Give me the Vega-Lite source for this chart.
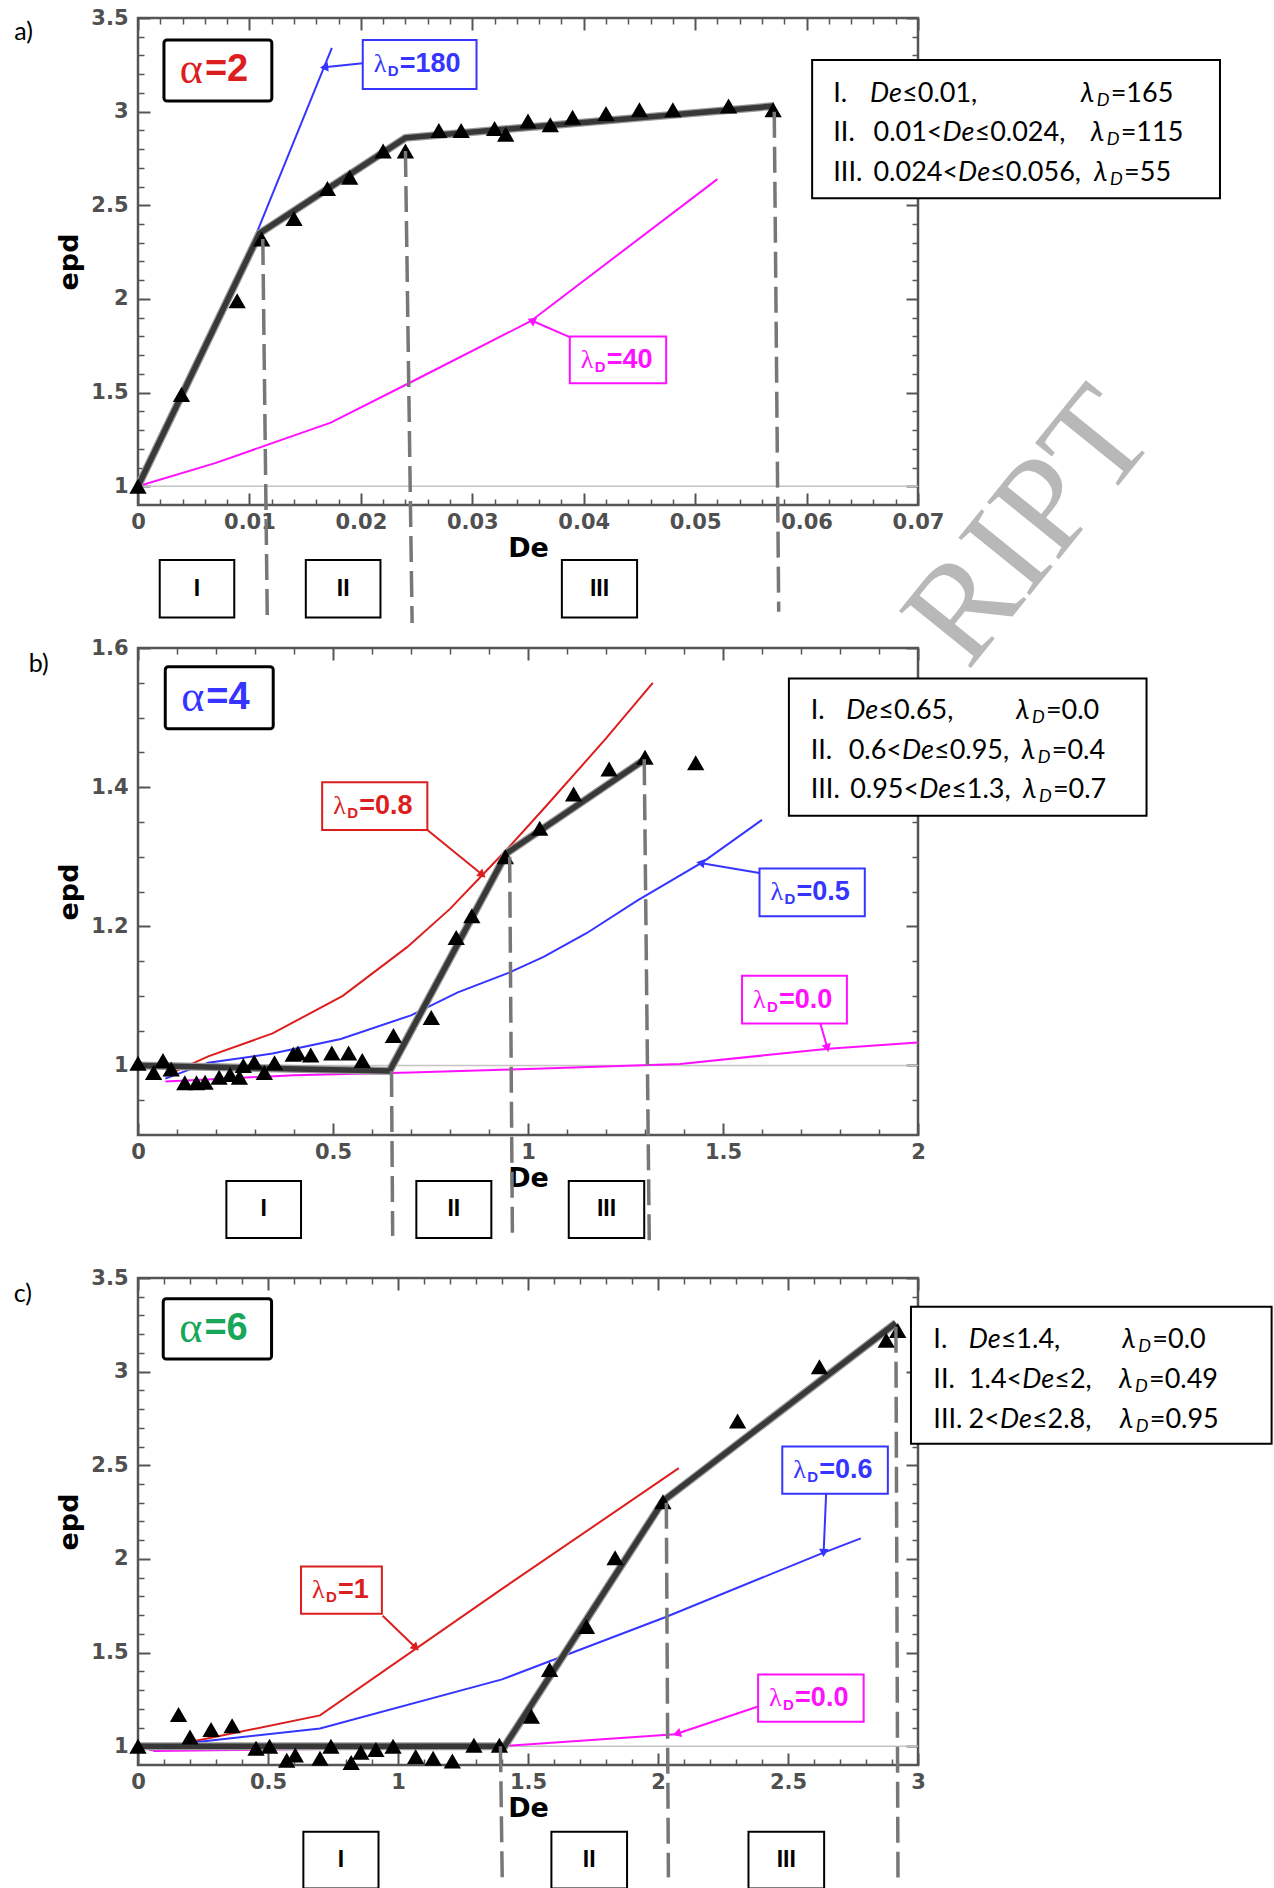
{
"$schema": "https://vega.github.io/schema/vega-lite/v6.json",
"background": "white",
"padding": {"left": 12, "top": 5, "right": 0, "bottom": 0},
"bounds": "flush",
"spacing": 143,
"config": {
  "view": {"stroke": "#555", "strokeWidth": 2.5},
  "axis": {"disable": true, "domain": false, "grid": false, "labelFont": "DejaVu Sans", "labelFontWeight": "bold", "labelFontSize": 21, "labelColor": "#505050", "labelFlush": false, "labelOverlap": false, "tickColor": "#555", "tickWidth": 2, "titleFont": "DejaVu Sans", "titleFontWeight": "bold", "titleFontSize": 27, "titleColor": "#000"},
  "legend": {"disable": true}
},
"datasets": {
  "one": [{"p":"a","x":0,"x2":0.07,"y":1},{"p":"b","x":0,"x2":2,"y":1},{"p":"c","x":0,"x2":3,"y":1}],
  "tri": [
    {"p":"a","x":0,"y":1.0},{"p":"a","x":0.0039,"y":1.49},{"p":"a","x":0.0089,"y":1.99},{"p":"a","x":0.0111,"y":2.32},{"p":"a","x":0.014,"y":2.43},{"p":"a","x":0.017,"y":2.59},{"p":"a","x":0.019,"y":2.65},{"p":"a","x":0.022,"y":2.79},{"p":"a","x":0.024,"y":2.79},{"p":"a","x":0.027,"y":2.9},{"p":"a","x":0.029,"y":2.9},{"p":"a","x":0.032,"y":2.91},{"p":"a","x":0.033,"y":2.88},{"p":"a","x":0.035,"y":2.95},{"p":"a","x":0.037,"y":2.93},{"p":"a","x":0.039,"y":2.97},{"p":"a","x":0.042,"y":2.99},{"p":"a","x":0.045,"y":3.01},{"p":"a","x":0.048,"y":3.01},{"p":"a","x":0.053,"y":3.03},{"p":"a","x":0.057,"y":3.01},
    {"p":"b","x":0,"y":1.003},{"p":"b","x":0.04,"y":0.99},{"p":"b","x":0.064,"y":1.007},{"p":"b","x":0.085,"y":0.995},{"p":"b","x":0.12,"y":0.975},{"p":"b","x":0.15,"y":0.975},{"p":"b","x":0.172,"y":0.976},{"p":"b","x":0.208,"y":0.983},{"p":"b","x":0.236,"y":0.987},{"p":"b","x":0.26,"y":0.983},{"p":"b","x":0.27,"y":1.0},{"p":"b","x":0.298,"y":1.005},{"p":"b","x":0.324,"y":0.99},{"p":"b","x":0.35,"y":1.004},{"p":"b","x":0.398,"y":1.016},{"p":"b","x":0.41,"y":1.018},{"p":"b","x":0.443,"y":1.015},{"p":"b","x":0.497,"y":1.018},{"p":"b","x":0.54,"y":1.018},{"p":"b","x":0.575,"y":1.007},{"p":"b","x":0.655,"y":1.043},{"p":"b","x":0.752,"y":1.069},{"p":"b","x":0.816,"y":1.184},{"p":"b","x":0.856,"y":1.215},{"p":"b","x":0.942,"y":1.3},{"p":"b","x":1.03,"y":1.341},{"p":"b","x":1.117,"y":1.39},{"p":"b","x":1.208,"y":1.426},{"p":"b","x":1.3,"y":1.443},{"p":"b","x":1.43,"y":1.435},
    {"p":"c","x":0,"y":1.0},{"p":"c","x":0.156,"y":1.17},{"p":"c","x":0.2,"y":1.05},{"p":"c","x":0.281,"y":1.09},{"p":"c","x":0.362,"y":1.11},{"p":"c","x":0.454,"y":0.99},{"p":"c","x":0.506,"y":1.0},{"p":"c","x":0.572,"y":0.925},{"p":"c","x":0.605,"y":0.953},{"p":"c","x":0.7,"y":0.936},{"p":"c","x":0.742,"y":1.0},{"p":"c","x":0.82,"y":0.914},{"p":"c","x":0.857,"y":0.968},{"p":"c","x":0.915,"y":0.983},{"p":"c","x":0.981,"y":1.0},{"p":"c","x":1.068,"y":0.946},{"p":"c","x":1.135,"y":0.936},{"p":"c","x":1.209,"y":0.921},{"p":"c","x":1.292,"y":1.006},{"p":"c","x":1.39,"y":1.006},{"p":"c","x":1.513,"y":1.16},{"p":"c","x":1.583,"y":1.41},{"p":"c","x":1.725,"y":1.64},{"p":"c","x":1.835,"y":2.006},{"p":"c","x":2.019,"y":2.305},{"p":"c","x":2.306,"y":2.736},{"p":"c","x":2.621,"y":3.026},{"p":"c","x":2.878,"y":3.168},{"p":"c","x":2.922,"y":3.22}
  ],
  "fit": [
    {"p":"a","x":0,"y":1.0},{"p":"a","x":0.0109,"y":2.35},{"p":"a","x":0.024,"y":2.86},{"p":"a","x":0.0571,"y":3.03},
    {"p":"b","x":0,"y":1.0},{"p":"b","x":0.645,"y":0.992},{"p":"b","x":0.945,"y":1.305},{"p":"b","x":1.3,"y":1.44},
    {"p":"c","x":0,"y":1.0},{"p":"c","x":1.41,"y":1.0},{"p":"c","x":2.02,"y":2.31},{"p":"c","x":2.915,"y":3.26}
  ],
  "curves": [
    {"p":"a","c":"b","x":0,"y":1},{"p":"a","c":"b","x":0.0105,"y":2.33},{"p":"a","c":"b","x":0.0174,"y":3.34},
    {"p":"a","c":"m","x":0,"y":1},{"p":"a","c":"m","x":0.007,"y":1.125},{"p":"a","c":"m","x":0.0173,"y":1.34},{"p":"a","c":"m","x":0.0243,"y":1.55},{"p":"a","c":"m","x":0.0352,"y":1.88},{"p":"a","c":"m","x":0.052,"y":2.64},
    {"p":"b","c":"r","x":0.07,"y":0.985},{"p":"b","c":"r","x":0.18,"y":1.013},{"p":"b","c":"r","x":0.345,"y":1.046},{"p":"b","c":"r","x":0.525,"y":1.1},{"p":"b","c":"r","x":0.69,"y":1.17},{"p":"b","c":"r","x":0.8,"y":1.225},{"p":"b","c":"r","x":0.88,"y":1.272},{"p":"b","c":"r","x":0.945,"y":1.31},{"p":"b","c":"r","x":1.05,"y":1.375},{"p":"b","c":"r","x":1.2,"y":1.47},{"p":"b","c":"r","x":1.32,"y":1.55},
    {"p":"b","c":"b","x":0.07,"y":0.981},{"p":"b","c":"b","x":0.18,"y":1.004},{"p":"b","c":"b","x":0.345,"y":1.017},{"p":"b","c":"b","x":0.52,"y":1.038},{"p":"b","c":"b","x":0.7,"y":1.072},{"p":"b","c":"b","x":0.82,"y":1.105},{"p":"b","c":"b","x":0.95,"y":1.133},{"p":"b","c":"b","x":1.04,"y":1.156},{"p":"b","c":"b","x":1.15,"y":1.19},{"p":"b","c":"b","x":1.28,"y":1.237},{"p":"b","c":"b","x":1.45,"y":1.293},{"p":"b","c":"b","x":1.6,"y":1.353},
    {"p":"b","c":"m","x":0.07,"y":0.977},{"p":"b","c":"m","x":0.15,"y":0.979},{"p":"b","c":"m","x":0.4,"y":0.986},{"p":"b","c":"m","x":0.7,"y":0.99},{"p":"b","c":"m","x":1.0,"y":0.995},{"p":"b","c":"m","x":1.39,"y":1.002},{"p":"b","c":"m","x":1.77,"y":1.024},{"p":"b","c":"m","x":2.0,"y":1.033},
    {"p":"c","c":"r","x":0,"y":1},{"p":"c","c":"r","x":0.07,"y":0.975},{"p":"c","c":"r","x":0.21,"y":1.025},{"p":"c","c":"r","x":0.7,"y":1.165},{"p":"c","c":"r","x":1.4,"y":1.84},{"p":"c","c":"r","x":2.08,"y":2.485},
    {"p":"c","c":"b","x":0,"y":1},{"p":"c","c":"b","x":0.07,"y":0.975},{"p":"c","c":"b","x":0.21,"y":1.02},{"p":"c","c":"b","x":0.7,"y":1.095},{"p":"c","c":"b","x":1.4,"y":1.357},{"p":"c","c":"b","x":2.03,"y":1.69},{"p":"c","c":"b","x":2.63,"y":2.03},{"p":"c","c":"b","x":2.78,"y":2.11},
    {"p":"c","c":"m","x":0,"y":1},{"p":"c","c":"m","x":0.07,"y":0.975},{"p":"c","c":"m","x":0.7,"y":0.985},{"p":"c","c":"m","x":1.4,"y":1.0},{"p":"c","c":"m","x":2.08,"y":1.065}
  ],
  "dash": [
    {"p":"a","x":0.0112,"y":2.32,"x2":0.0116,"y2":0.31},{"p":"a","x":0.024,"y":2.79,"x2":0.0246,"y2":0.27},{"p":"a","x":0.0571,"y":3.0,"x2":0.0575,"y2":0.33},
    {"p":"b","x":0.65,"y":0.992,"x2":0.653,"y2":0.755},{"p":"b","x":0.953,"y":1.3,"x2":0.96,"y2":0.755},{"p":"b","x":1.298,"y":1.44,"x2":1.311,"y2":0.745},
    {"p":"c","x":1.394,"y":1.0,"x2":1.401,"y2":0.28},{"p":"c","x":2.032,"y":2.3,"x2":2.04,"y2":0.3},{"p":"c","x":2.915,"y":3.24,"x2":2.923,"y2":0.3}
  ],
  "regions": [
    {"p":"a","t":"I","x":0.00195,"x2":0.00864,"y":0.607,"y2":0.299,"xc":0.0053,"yc":0.453},
    {"p":"a","t":"II","x":0.01506,"x2":0.02176,"y":0.607,"y2":0.299,"xc":0.01841,"yc":0.453},
    {"p":"a","t":"III","x":0.03804,"x2":0.04479,"y":0.607,"y2":0.299,"xc":0.04142,"yc":0.453},
    {"p":"b","t":"I","x":0.2266,"x2":0.418,"y":0.834,"y2":0.752,"xc":0.3223,"yc":0.793},
    {"p":"b","t":"II","x":0.7137,"x2":0.906,"y":0.834,"y2":0.752,"xc":0.8099,"yc":0.793},
    {"p":"b","t":"III","x":1.1045,"x2":1.298,"y":0.834,"y2":0.752,"xc":1.2013,"yc":0.793},
    {"p":"c","t":"I","x":0.636,"x2":0.925,"y":0.544,"y2":0.24,"xc":0.7805,"yc":0.392},
    {"p":"c","t":"II","x":1.59,"x2":1.881,"y":0.544,"y2":0.24,"xc":1.7355,"yc":0.392},
    {"p":"c","t":"III","x":2.348,"x2":2.639,"y":0.544,"y2":0.24,"xc":2.4935,"yc":0.392}
  ],
  "tags": [
    {"p":"a","c":"b","x":0.02017,"x2":0.03038,"y":3.383,"y2":3.121,"yc":3.252,"v":"=180"},
    {"p":"a","c":"m","x":0.03875,"x2":0.0474,"y":1.8,"y2":1.55,"yc":1.675,"v":"=40"},
    {"p":"b","c":"r","x":0.4722,"x2":0.7419,"y":1.4072,"y2":1.3385,"yc":1.373,"v":"=0.8"},
    {"p":"b","c":"b","x":1.5936,"x2":1.8636,"y":1.283,"y2":1.2145,"yc":1.249,"v":"=0.5"},
    {"p":"b","c":"m","x":1.5488,"x2":1.8177,"y":1.129,"y2":1.0603,"yc":1.0947,"v":"=0.0"},
    {"p":"c","c":"r","x":0.627,"x2":0.938,"y":1.9594,"y2":1.7076,"yc":1.8335,"v":"=1"},
    {"p":"c","c":"b","x":2.478,"x2":2.884,"y":2.6,"y2":2.348,"yc":2.474,"v":"=0.6"},
    {"p":"c","c":"m","x":2.385,"x2":2.791,"y":1.383,"y2":1.131,"yc":1.257,"v":"=0.0"}
  ],
  "arrows": [
    {"p":"a","id":"a180","c":"b","x":0.02017,"y":3.258,"x2":0.0167,"y2":3.237},
    {"p":"a","id":"a40","c":"m","x":0.03875,"y":1.796,"x2":0.03531,"y2":1.885},
    {"p":"b","id":"b08","c":"r","x":0.742,"y":1.3385,"x2":0.883,"y2":1.274},
    {"p":"b","id":"b05","c":"b","x":1.5936,"y":1.2767,"x2":1.442,"y2":1.291},
    {"p":"b","id":"b00","c":"m","x":1.7495,"y":1.0603,"x2":1.7677,"y2":1.025},
    {"p":"c","id":"c1","c":"r","x":0.941,"y":1.697,"x2":1.0685,"y2":1.526},
    {"p":"c","id":"c06","c":"b","x":2.6466,"y":2.348,"x2":2.637,"y2":2.032},
    {"p":"c","id":"c00","c":"m","x":2.385,"y":1.212,"x2":2.0724,"y2":1.067}
  ],
  "alpha": [
    {"p":"a","c":"r","x":0.00233,"x2":0.01201,"y":3.383,"y2":3.057,"xc":0.00717,"yc":3.22,"v":"=2"},
    {"p":"b","c":"b","x":0.0699,"x2":0.3467,"y":1.573,"y2":1.4838,"xc":0.2083,"yc":1.528,"v":"=4"},
    {"p":"c","c":"g","x":0.097,"x2":0.5137,"y":3.3896,"y2":3.067,"xc":0.3054,"yc":3.228,"v":"=6"}
  ],
  "legbox": [
    {"p":"a","x":0.0605,"x2":0.0971,"y":3.276,"y2":2.538},
    {"p":"b","x":1.669,"x2":2.586,"y":1.556,"y2":1.359},
    {"p":"c","x":2.973,"x2":4.36,"y":3.346,"y2":2.615}
  ],
  "leg": [
    {"p":"a","y":3.094,"n":"I.","xn":0.0624,"xd":0.0657,"pre":"","post":"≤0.01,","xl":0.0846,"v":"=165"},
    {"p":"a","y":2.888,"n":"II.","xn":0.0624,"xd":0.0722,"pre":"0.01<","post":"≤0.024,","xl":0.0855,"v":"=115"},
    {"p":"a","y":2.675,"n":"III.","xn":0.0624,"xd":0.0736,"pre":"0.024<","post":"≤0.056,","xl":0.0858,"v":"=55"},
    {"p":"b","y":1.51,"n":"I.","xn":1.725,"xd":1.816,"pre":"","post":"≤0.65,","xl":2.251,"v":"=0.0"},
    {"p":"b","y":1.452,"n":"II.","xn":1.725,"xd":1.959,"pre":"0.6<","post":"≤0.95,","xl":2.266,"v":"=0.4"},
    {"p":"b","y":1.396,"n":"III.","xn":1.725,"xd":2.003,"pre":"0.95<","post":"≤1.3,","xl":2.269,"v":"=0.7"},
    {"p":"c","y":3.17,"n":"I.","xn":3.059,"xd":3.195,"pre":"","post":"≤1.4,","xl":3.786,"v":"=0.0"},
    {"p":"c","y":2.956,"n":"II.","xn":3.059,"xd":3.401,"pre":"1.4<","post":"≤2,","xl":3.773,"v":"=0.49"},
    {"p":"c","y":2.743,"n":"III.","xn":3.059,"xd":3.315,"pre":"2<","post":"≤2.8,","xl":3.776,"v":"=0.95"}
  ],
  "plabel": [
    {"p":"a","x":-0.0111,"y":3.425,"t":"a)"},
    {"p":"b","x":-0.2804,"y":1.577,"t":"b)"},
    {"p":"c","x":-0.4775,"y":3.415,"t":"c)"}
  ],
  "wm": [{"p":"a","x":0.0801,"y":0.78,"t":"RIPT"}]
},
"vconcat": [
{
"width": 780, "height": 487,
"resolve": {"axis": {"x": "independent", "y": "independent"}},
"layer": [
  {"data": {"values": [{"x": 0, "y": 1}]}, "mark": {"type": "point", "opacity": 0},
   "encoding": {
    "x": {"field": "x", "type": "quantitative", "scale": {"domain": [0, 0.07], "nice": false, "zero": false},
          "axis": {"orient": "bottom", "values": [0,0.01,0.02,0.03,0.04,0.05,0.06,0.07], "format": "~g", "tickSize": -12, "labelPadding": 18, "title": "De", "titlePadding": 3}},
    "y": {"field": "y", "type": "quantitative", "scale": {"domain": [0.9, 3.5], "nice": false, "zero": false},
          "axis": {"orient": "left", "values": [1,1.5,2,2.5,3,3.5], "format": "~g", "tickSize": -12, "labelPadding": 22, "title": "epd", "titlePadding": 7}}}},
  {"data": {"values": [{"x": 0, "y": 1}]}, "mark": {"type": "point", "opacity": 0},
   "encoding": {
    "x": {"field": "x", "type": "quantitative", "axis": {"orient": "bottom", "values": [0.002,0.004,0.006,0.008,0.012,0.014,0.016,0.018,0.022,0.024,0.026,0.028,0.032,0.034,0.036,0.038,0.042,0.044,0.046,0.048,0.052,0.054,0.056,0.058,0.062,0.064,0.066,0.068], "labels": false, "tickSize": -6, "tickWidth": 1.5, "title": null}},
    "y": {"field": "y", "type": "quantitative", "axis": {"orient": "left", "values": [1.1,1.2,1.3,1.4,1.6,1.7,1.8,1.9,2.1,2.2,2.3,2.4,2.6,2.7,2.8,2.9,3.1,3.2,3.3,3.4], "labels": false, "tickSize": -6, "tickWidth": 1.5, "title": null}}}},
  {"data": {"values": [{"x": 0, "y": 1}]}, "mark": {"type": "point", "opacity": 0},
   "encoding": {
    "x": {"field": "x", "type": "quantitative", "axis": {"orient": "top", "values": [0,0.01,0.02,0.03,0.04,0.05,0.06,0.07], "labels": false, "tickSize": -12, "title": null}},
    "y": {"field": "y", "type": "quantitative", "axis": {"orient": "right", "values": [1,1.5,2,2.5,3,3.5], "labels": false, "tickSize": -12, "title": null}}}},
  {"data": {"values": [{"x": 0, "y": 1}]}, "mark": {"type": "point", "opacity": 0},
   "encoding": {
    "x": {"field": "x", "type": "quantitative", "axis": {"orient": "top", "values": [0.002,0.004,0.006,0.008,0.012,0.014,0.016,0.018,0.022,0.024,0.026,0.028,0.032,0.034,0.036,0.038,0.042,0.044,0.046,0.048,0.052,0.054,0.056,0.058,0.062,0.064,0.066,0.068], "labels": false, "tickSize": -6, "tickWidth": 1.5, "title": null}},
    "y": {"field": "y", "type": "quantitative", "axis": {"orient": "right", "values": [1.1,1.2,1.3,1.4,1.6,1.7,1.8,1.9,2.1,2.2,2.3,2.4,2.6,2.7,2.8,2.9,3.1,3.2,3.3,3.4], "labels": false, "tickSize": -6, "tickWidth": 1.5, "title": null}}}},
  {"data": {"name": "wm"}, "mark": {"type": "text", "font": "Liberation Serif", "fontSize": 140, "color": "#b8b8b8", "angle": 309, "align": "center", "baseline": "middle"}, "encoding": {"x": {"field": "x", "type": "quantitative"}, "y": {"field": "y", "type": "quantitative"}, "text": {"field": "t"}}},
  {"data": {"name": "one"}, "transform": [{"filter": "datum.p==='a'"}], "mark": {"type": "rule", "color": "#c4c4c4", "strokeWidth": 1.5}, "encoding": {"x": {"field": "x", "type": "quantitative"}, "x2": {"field": "x2"}, "y": {"field": "y", "type": "quantitative"}}},
  {"data": {"name": "curves"}, "transform": [{"filter": "datum.p==='a'"}], "mark": {"type": "line", "strokeWidth": 2}, "encoding": {"x": {"field": "x", "type": "quantitative"}, "y": {"field": "y", "type": "quantitative"}, "color": {"field": "c", "type": "nominal", "scale": {"domain": ["r","b","m","g"], "range": ["#dc1e1e","#3535ff","#ff10ff","#17a65a"]}}}},
  {"data": {"name": "fit"}, "transform": [{"filter": "datum.p==='a'"}], "mark": {"type": "line", "color": "#9a9a9a", "strokeWidth": 8}, "encoding": {"x": {"field": "x", "type": "quantitative"}, "y": {"field": "y", "type": "quantitative"}}},
  {"data": {"name": "fit"}, "transform": [{"filter": "datum.p==='a'"}], "mark": {"type": "line", "color": "#383838", "strokeWidth": 5.5}, "encoding": {"x": {"field": "x", "type": "quantitative"}, "y": {"field": "y", "type": "quantitative"}}},
  {"data": {"name": "tri"}, "transform": [{"filter": "datum.p==='a'"}], "mark": {"type": "point", "shape": "triangle-up", "filled": true, "color": "#000", "opacity": 1, "size": 300}, "encoding": {"x": {"field": "x", "type": "quantitative"}, "y": {"field": "y", "type": "quantitative"}}},
  {"data": {"name": "dash"}, "transform": [{"filter": "datum.p==='a'"}], "mark": {"type": "rule", "color": "#777", "strokeWidth": 3.5, "strokeDash": [26, 9]}, "encoding": {"x": {"field": "x", "type": "quantitative"}, "y": {"field": "y", "type": "quantitative"}, "x2": {"field": "x2"}, "y2": {"field": "y2"}}},
  {"data": {"name": "regions"}, "transform": [{"filter": "datum.p==='a'"}], "mark": {"type": "rect", "fill": "white", "stroke": "#000", "strokeWidth": 2}, "encoding": {"x": {"field": "x", "type": "quantitative"}, "x2": {"field": "x2"}, "y": {"field": "y", "type": "quantitative"}, "y2": {"field": "y2"}}},
  {"data": {"name": "regions"}, "transform": [{"filter": "datum.p==='a'"}], "mark": {"type": "text", "font": "Liberation Sans", "fontWeight": "bold", "fontSize": 23, "color": "#000", "align": "center", "baseline": "middle"}, "encoding": {"x": {"field": "xc", "type": "quantitative"}, "y": {"field": "yc", "type": "quantitative"}, "text": {"field": "t"}}},
  {"data": {"name": "arrows"}, "transform": [{"filter": "datum.p==='a'"}], "mark": {"type": "rule", "strokeWidth": 2}, "encoding": {"x": {"field": "x", "type": "quantitative"}, "y": {"field": "y", "type": "quantitative"}, "x2": {"field": "x2"}, "y2": {"field": "y2"}, "color": {"field": "c", "type": "nominal", "scale": {"domain": ["r","b","m","g"], "range": ["#dc1e1e","#3535ff","#ff10ff","#17a65a"]}}}},
  {"data": {"name": "arrows"}, "transform": [{"filter": "datum.id==='a180'"}], "mark": {"type": "point", "shape": "triangle-up", "filled": true, "opacity": 1, "size": 90, "angle": 264}, "encoding": {"x": {"field": "x2", "type": "quantitative"}, "y": {"field": "y2", "type": "quantitative"}, "color": {"field": "c", "type": "nominal", "scale": {"domain": ["r","b","m","g"], "range": ["#dc1e1e","#3535ff","#ff10ff","#17a65a"]}}}},
  {"data": {"name": "arrows"}, "transform": [{"filter": "datum.id==='a40'"}], "mark": {"type": "point", "shape": "triangle-up", "filled": true, "opacity": 1, "size": 90, "angle": 294}, "encoding": {"x": {"field": "x2", "type": "quantitative"}, "y": {"field": "y2", "type": "quantitative"}, "color": {"field": "c", "type": "nominal", "scale": {"domain": ["r","b","m","g"], "range": ["#dc1e1e","#3535ff","#ff10ff","#17a65a"]}}}},
  {"data": {"name": "tags"}, "transform": [{"filter": "datum.p==='a'"}], "mark": {"type": "rect", "fill": "white", "strokeWidth": 2}, "encoding": {"x": {"field": "x", "type": "quantitative"}, "x2": {"field": "x2"}, "y": {"field": "y", "type": "quantitative"}, "y2": {"field": "y2"}, "stroke": {"field": "c", "type": "nominal", "scale": {"domain": ["r","b","m","g"], "range": ["#dc1e1e","#3535ff","#ff10ff","#17a65a"]}}}},
  {"data": {"name": "tags"}, "transform": [{"filter": "datum.p==='a'"}], "mark": {"type": "text", "text": "λ", "font": "Liberation Serif", "fontSize": 26, "align": "left", "baseline": "middle", "dx": 11}, "encoding": {"x": {"field": "x", "type": "quantitative"}, "y": {"field": "yc", "type": "quantitative"}, "color": {"field": "c", "type": "nominal", "scale": {"domain": ["r","b","m","g"], "range": ["#dc1e1e","#3535ff","#ff10ff","#17a65a"]}}}},
  {"data": {"name": "tags"}, "transform": [{"filter": "datum.p==='a'"}], "mark": {"type": "text", "text": "D", "font": "Liberation Sans", "fontWeight": "bold", "fontSize": 15, "align": "left", "baseline": "middle", "dx": 25, "dy": 7}, "encoding": {"x": {"field": "x", "type": "quantitative"}, "y": {"field": "yc", "type": "quantitative"}, "color": {"field": "c", "type": "nominal", "scale": {"domain": ["r","b","m","g"], "range": ["#dc1e1e","#3535ff","#ff10ff","#17a65a"]}}}},
  {"data": {"name": "tags"}, "transform": [{"filter": "datum.p==='a'"}], "mark": {"type": "text", "font": "Liberation Sans", "fontWeight": "bold", "fontSize": 27, "align": "left", "baseline": "middle", "dx": 37}, "encoding": {"x": {"field": "x", "type": "quantitative"}, "y": {"field": "yc", "type": "quantitative"}, "text": {"field": "v"}, "color": {"field": "c", "type": "nominal", "scale": {"domain": ["r","b","m","g"], "range": ["#dc1e1e","#3535ff","#ff10ff","#17a65a"]}}}},
  {"data": {"name": "alpha"}, "transform": [{"filter": "datum.p==='a'"}], "mark": {"type": "rect", "fill": "white", "stroke": "#000", "strokeWidth": 3, "cornerRadius": 3}, "encoding": {"x": {"field": "x", "type": "quantitative"}, "x2": {"field": "x2"}, "y": {"field": "y", "type": "quantitative"}, "y2": {"field": "y2"}}},
  {"data": {"name": "alpha"}, "transform": [{"filter": "datum.p==='a'"}], "mark": {"type": "text", "text": "α", "font": "Liberation Serif", "fontSize": 44, "align": "right", "baseline": "middle", "dx": -15}, "encoding": {"x": {"field": "xc", "type": "quantitative"}, "y": {"field": "yc", "type": "quantitative"}, "color": {"field": "c", "type": "nominal", "scale": {"domain": ["r","b","m","g"], "range": ["#dc1e1e","#3535ff","#ff10ff","#17a65a"]}}}},
  {"data": {"name": "alpha"}, "transform": [{"filter": "datum.p==='a'"}], "mark": {"type": "text", "font": "Liberation Sans", "fontWeight": "bold", "fontSize": 38, "align": "left", "baseline": "middle", "dx": -13}, "encoding": {"x": {"field": "xc", "type": "quantitative"}, "y": {"field": "yc", "type": "quantitative"}, "text": {"field": "v"}, "color": {"field": "c", "type": "nominal", "scale": {"domain": ["r","b","m","g"], "range": ["#dc1e1e","#3535ff","#ff10ff","#17a65a"]}}}},
  {"data": {"name": "legbox"}, "transform": [{"filter": "datum.p==='a'"}], "mark": {"type": "rect", "fill": "white", "stroke": "#000", "strokeWidth": 2}, "encoding": {"x": {"field": "x", "type": "quantitative"}, "x2": {"field": "x2"}, "y": {"field": "y", "type": "quantitative"}, "y2": {"field": "y2"}}},
  {"data": {"name": "leg"}, "transform": [{"filter": "datum.p==='a'"}], "mark": {"type": "text", "font": "Lato", "fontSize": 27, "align": "left", "baseline": "middle", "color": "#000"}, "encoding": {"x": {"field": "xn", "type": "quantitative"}, "y": {"field": "y", "type": "quantitative"}, "text": {"field": "n"}}},
  {"data": {"name": "leg"}, "transform": [{"filter": "datum.p==='a'"}], "mark": {"type": "text", "font": "Lato", "fontSize": 27, "align": "right", "baseline": "middle", "color": "#000"}, "encoding": {"x": {"field": "xd", "type": "quantitative"}, "y": {"field": "y", "type": "quantitative"}, "text": {"field": "pre"}}},
  {"data": {"name": "leg"}, "transform": [{"filter": "datum.p==='a'"}], "mark": {"type": "text", "text": "De", "font": "Lato", "fontStyle": "italic", "fontSize": 27, "align": "left", "baseline": "middle", "color": "#000"}, "encoding": {"x": {"field": "xd", "type": "quantitative"}, "y": {"field": "y", "type": "quantitative"}}},
  {"data": {"name": "leg"}, "transform": [{"filter": "datum.p==='a'"}], "mark": {"type": "text", "font": "Lato", "fontSize": 27, "align": "left", "baseline": "middle", "color": "#000", "dx": 32}, "encoding": {"x": {"field": "xd", "type": "quantitative"}, "y": {"field": "y", "type": "quantitative"}, "text": {"field": "post"}}},
  {"data": {"name": "leg"}, "transform": [{"filter": "datum.p==='a'"}], "mark": {"type": "text", "text": "λ", "font": "Lato", "fontStyle": "italic", "fontSize": 27, "align": "left", "baseline": "middle", "color": "#000"}, "encoding": {"x": {"field": "xl", "type": "quantitative"}, "y": {"field": "y", "type": "quantitative"}}},
  {"data": {"name": "leg"}, "transform": [{"filter": "datum.p==='a'"}], "mark": {"type": "text", "text": "D", "font": "Lato", "fontStyle": "italic", "fontSize": 18, "align": "left", "baseline": "middle", "color": "#000", "dx": 16, "dy": 7}, "encoding": {"x": {"field": "xl", "type": "quantitative"}, "y": {"field": "y", "type": "quantitative"}}},
  {"data": {"name": "leg"}, "transform": [{"filter": "datum.p==='a'"}], "mark": {"type": "text", "font": "Lato", "fontSize": 27, "align": "left", "baseline": "middle", "color": "#000", "dx": 30}, "encoding": {"x": {"field": "xl", "type": "quantitative"}, "y": {"field": "y", "type": "quantitative"}, "text": {"field": "v"}}},
  {"data": {"name": "plabel"}, "transform": [{"filter": "datum.p==='a'"}], "mark": {"type": "text", "font": "Lato", "fontSize": 25, "align": "left", "baseline": "middle", "color": "#000"}, "encoding": {"x": {"field": "x", "type": "quantitative"}, "y": {"field": "y", "type": "quantitative"}, "text": {"field": "t"}}}
]
},
{
"width": 780, "height": 487,
"resolve": {"axis": {"x": "independent", "y": "independent"}},
"layer": [
  {"data": {"values": [{"x": 0, "y": 1}]}, "mark": {"type": "point", "opacity": 0},
   "encoding": {
    "x": {"field": "x", "type": "quantitative", "scale": {"domain": [0, 2], "nice": false, "zero": false},
          "axis": {"orient": "bottom", "values": [0,0.5,1,1.5,2], "format": "~g", "tickSize": -12, "labelPadding": 18, "title": "De", "titlePadding": 3}},
    "y": {"field": "y", "type": "quantitative", "scale": {"domain": [0.9, 1.6], "nice": false, "zero": false},
          "axis": {"orient": "left", "values": [1,1.2,1.4,1.6], "format": "~g", "tickSize": -12, "labelPadding": 22, "title": "epd", "titlePadding": 7}}}},
  {"data": {"values": [{"x": 0, "y": 1}]}, "mark": {"type": "point", "opacity": 0},
   "encoding": {
    "x": {"field": "x", "type": "quantitative", "axis": {"orient": "bottom", "values": [0.1,0.2,0.3,0.4,0.6,0.7,0.8,0.9,1.1,1.2,1.3,1.4,1.6,1.7,1.8,1.9], "labels": false, "tickSize": -6, "tickWidth": 1.5, "title": null}},
    "y": {"field": "y", "type": "quantitative", "axis": {"orient": "left", "values": [0.95,1.05,1.1,1.15,1.25,1.3,1.35,1.45,1.5,1.55], "labels": false, "tickSize": -6, "tickWidth": 1.5, "title": null}}}},
  {"data": {"values": [{"x": 0, "y": 1}]}, "mark": {"type": "point", "opacity": 0},
   "encoding": {
    "x": {"field": "x", "type": "quantitative", "axis": {"orient": "top", "values": [0,0.5,1,1.5,2], "labels": false, "tickSize": -12, "title": null}},
    "y": {"field": "y", "type": "quantitative", "axis": {"orient": "right", "values": [1,1.2,1.4,1.6], "labels": false, "tickSize": -12, "title": null}}}},
  {"data": {"values": [{"x": 0, "y": 1}]}, "mark": {"type": "point", "opacity": 0},
   "encoding": {
    "x": {"field": "x", "type": "quantitative", "axis": {"orient": "top", "values": [0.1,0.2,0.3,0.4,0.6,0.7,0.8,0.9,1.1,1.2,1.3,1.4,1.6,1.7,1.8,1.9], "labels": false, "tickSize": -6, "tickWidth": 1.5, "title": null}},
    "y": {"field": "y", "type": "quantitative", "axis": {"orient": "right", "values": [0.95,1.05,1.1,1.15,1.25,1.3,1.35,1.45,1.5,1.55], "labels": false, "tickSize": -6, "tickWidth": 1.5, "title": null}}}},
  {"data": {"name": "one"}, "transform": [{"filter": "datum.p==='b'"}], "mark": {"type": "rule", "color": "#c4c4c4", "strokeWidth": 1.5}, "encoding": {"x": {"field": "x", "type": "quantitative"}, "x2": {"field": "x2"}, "y": {"field": "y", "type": "quantitative"}}},
  {"data": {"name": "curves"}, "transform": [{"filter": "datum.p==='b'"}], "mark": {"type": "line", "strokeWidth": 2}, "encoding": {"x": {"field": "x", "type": "quantitative"}, "y": {"field": "y", "type": "quantitative"}, "color": {"field": "c", "type": "nominal", "scale": {"domain": ["r","b","m","g"], "range": ["#dc1e1e","#3535ff","#ff10ff","#17a65a"]}}}},
  {"data": {"name": "fit"}, "transform": [{"filter": "datum.p==='b'"}], "mark": {"type": "line", "color": "#9a9a9a", "strokeWidth": 8}, "encoding": {"x": {"field": "x", "type": "quantitative"}, "y": {"field": "y", "type": "quantitative"}}},
  {"data": {"name": "fit"}, "transform": [{"filter": "datum.p==='b'"}], "mark": {"type": "line", "color": "#383838", "strokeWidth": 5.5}, "encoding": {"x": {"field": "x", "type": "quantitative"}, "y": {"field": "y", "type": "quantitative"}}},
  {"data": {"name": "tri"}, "transform": [{"filter": "datum.p==='b'"}], "mark": {"type": "point", "shape": "triangle-up", "filled": true, "color": "#000", "opacity": 1, "size": 300}, "encoding": {"x": {"field": "x", "type": "quantitative"}, "y": {"field": "y", "type": "quantitative"}}},
  {"data": {"name": "dash"}, "transform": [{"filter": "datum.p==='b'"}], "mark": {"type": "rule", "color": "#777", "strokeWidth": 3.5, "strokeDash": [26, 9]}, "encoding": {"x": {"field": "x", "type": "quantitative"}, "y": {"field": "y", "type": "quantitative"}, "x2": {"field": "x2"}, "y2": {"field": "y2"}}},
  {"data": {"name": "regions"}, "transform": [{"filter": "datum.p==='b'"}], "mark": {"type": "rect", "fill": "white", "stroke": "#000", "strokeWidth": 2}, "encoding": {"x": {"field": "x", "type": "quantitative"}, "x2": {"field": "x2"}, "y": {"field": "y", "type": "quantitative"}, "y2": {"field": "y2"}}},
  {"data": {"name": "regions"}, "transform": [{"filter": "datum.p==='b'"}], "mark": {"type": "text", "font": "Liberation Sans", "fontWeight": "bold", "fontSize": 23, "color": "#000", "align": "center", "baseline": "middle"}, "encoding": {"x": {"field": "xc", "type": "quantitative"}, "y": {"field": "yc", "type": "quantitative"}, "text": {"field": "t"}}},
  {"data": {"name": "arrows"}, "transform": [{"filter": "datum.p==='b'"}], "mark": {"type": "rule", "strokeWidth": 2}, "encoding": {"x": {"field": "x", "type": "quantitative"}, "y": {"field": "y", "type": "quantitative"}, "x2": {"field": "x2"}, "y2": {"field": "y2"}, "color": {"field": "c", "type": "nominal", "scale": {"domain": ["r","b","m","g"], "range": ["#dc1e1e","#3535ff","#ff10ff","#17a65a"]}}}},
  {"data": {"name": "arrows"}, "transform": [{"filter": "datum.id==='b08'"}], "mark": {"type": "point", "shape": "triangle-up", "filled": true, "opacity": 1, "size": 90, "angle": 129}, "encoding": {"x": {"field": "x2", "type": "quantitative"}, "y": {"field": "y2", "type": "quantitative"}, "color": {"field": "c", "type": "nominal", "scale": {"domain": ["r","b","m","g"], "range": ["#dc1e1e","#3535ff","#ff10ff","#17a65a"]}}}},
  {"data": {"name": "arrows"}, "transform": [{"filter": "datum.id==='b05'"}], "mark": {"type": "point", "shape": "triangle-up", "filled": true, "opacity": 1, "size": 90, "angle": 279}, "encoding": {"x": {"field": "x2", "type": "quantitative"}, "y": {"field": "y2", "type": "quantitative"}, "color": {"field": "c", "type": "nominal", "scale": {"domain": ["r","b","m","g"], "range": ["#dc1e1e","#3535ff","#ff10ff","#17a65a"]}}}},
  {"data": {"name": "arrows"}, "transform": [{"filter": "datum.id==='b00'"}], "mark": {"type": "point", "shape": "triangle-up", "filled": true, "opacity": 1, "size": 90, "angle": 164}, "encoding": {"x": {"field": "x2", "type": "quantitative"}, "y": {"field": "y2", "type": "quantitative"}, "color": {"field": "c", "type": "nominal", "scale": {"domain": ["r","b","m","g"], "range": ["#dc1e1e","#3535ff","#ff10ff","#17a65a"]}}}},
  {"data": {"name": "tags"}, "transform": [{"filter": "datum.p==='b'"}], "mark": {"type": "rect", "fill": "white", "strokeWidth": 2}, "encoding": {"x": {"field": "x", "type": "quantitative"}, "x2": {"field": "x2"}, "y": {"field": "y", "type": "quantitative"}, "y2": {"field": "y2"}, "stroke": {"field": "c", "type": "nominal", "scale": {"domain": ["r","b","m","g"], "range": ["#dc1e1e","#3535ff","#ff10ff","#17a65a"]}}}},
  {"data": {"name": "tags"}, "transform": [{"filter": "datum.p==='b'"}], "mark": {"type": "text", "text": "λ", "font": "Liberation Serif", "fontSize": 26, "align": "left", "baseline": "middle", "dx": 11}, "encoding": {"x": {"field": "x", "type": "quantitative"}, "y": {"field": "yc", "type": "quantitative"}, "color": {"field": "c", "type": "nominal", "scale": {"domain": ["r","b","m","g"], "range": ["#dc1e1e","#3535ff","#ff10ff","#17a65a"]}}}},
  {"data": {"name": "tags"}, "transform": [{"filter": "datum.p==='b'"}], "mark": {"type": "text", "text": "D", "font": "Liberation Sans", "fontWeight": "bold", "fontSize": 15, "align": "left", "baseline": "middle", "dx": 25, "dy": 7}, "encoding": {"x": {"field": "x", "type": "quantitative"}, "y": {"field": "yc", "type": "quantitative"}, "color": {"field": "c", "type": "nominal", "scale": {"domain": ["r","b","m","g"], "range": ["#dc1e1e","#3535ff","#ff10ff","#17a65a"]}}}},
  {"data": {"name": "tags"}, "transform": [{"filter": "datum.p==='b'"}], "mark": {"type": "text", "font": "Liberation Sans", "fontWeight": "bold", "fontSize": 27, "align": "left", "baseline": "middle", "dx": 37}, "encoding": {"x": {"field": "x", "type": "quantitative"}, "y": {"field": "yc", "type": "quantitative"}, "text": {"field": "v"}, "color": {"field": "c", "type": "nominal", "scale": {"domain": ["r","b","m","g"], "range": ["#dc1e1e","#3535ff","#ff10ff","#17a65a"]}}}},
  {"data": {"name": "alpha"}, "transform": [{"filter": "datum.p==='b'"}], "mark": {"type": "rect", "fill": "white", "stroke": "#000", "strokeWidth": 3, "cornerRadius": 3}, "encoding": {"x": {"field": "x", "type": "quantitative"}, "x2": {"field": "x2"}, "y": {"field": "y", "type": "quantitative"}, "y2": {"field": "y2"}}},
  {"data": {"name": "alpha"}, "transform": [{"filter": "datum.p==='b'"}], "mark": {"type": "text", "text": "α", "font": "Liberation Serif", "fontSize": 44, "align": "right", "baseline": "middle", "dx": -15}, "encoding": {"x": {"field": "xc", "type": "quantitative"}, "y": {"field": "yc", "type": "quantitative"}, "color": {"field": "c", "type": "nominal", "scale": {"domain": ["r","b","m","g"], "range": ["#dc1e1e","#3535ff","#ff10ff","#17a65a"]}}}},
  {"data": {"name": "alpha"}, "transform": [{"filter": "datum.p==='b'"}], "mark": {"type": "text", "font": "Liberation Sans", "fontWeight": "bold", "fontSize": 38, "align": "left", "baseline": "middle", "dx": -13}, "encoding": {"x": {"field": "xc", "type": "quantitative"}, "y": {"field": "yc", "type": "quantitative"}, "text": {"field": "v"}, "color": {"field": "c", "type": "nominal", "scale": {"domain": ["r","b","m","g"], "range": ["#dc1e1e","#3535ff","#ff10ff","#17a65a"]}}}},
  {"data": {"name": "legbox"}, "transform": [{"filter": "datum.p==='b'"}], "mark": {"type": "rect", "fill": "white", "stroke": "#000", "strokeWidth": 2}, "encoding": {"x": {"field": "x", "type": "quantitative"}, "x2": {"field": "x2"}, "y": {"field": "y", "type": "quantitative"}, "y2": {"field": "y2"}}},
  {"data": {"name": "leg"}, "transform": [{"filter": "datum.p==='b'"}], "mark": {"type": "text", "font": "Lato", "fontSize": 27, "align": "left", "baseline": "middle", "color": "#000"}, "encoding": {"x": {"field": "xn", "type": "quantitative"}, "y": {"field": "y", "type": "quantitative"}, "text": {"field": "n"}}},
  {"data": {"name": "leg"}, "transform": [{"filter": "datum.p==='b'"}], "mark": {"type": "text", "font": "Lato", "fontSize": 27, "align": "right", "baseline": "middle", "color": "#000"}, "encoding": {"x": {"field": "xd", "type": "quantitative"}, "y": {"field": "y", "type": "quantitative"}, "text": {"field": "pre"}}},
  {"data": {"name": "leg"}, "transform": [{"filter": "datum.p==='b'"}], "mark": {"type": "text", "text": "De", "font": "Lato", "fontStyle": "italic", "fontSize": 27, "align": "left", "baseline": "middle", "color": "#000"}, "encoding": {"x": {"field": "xd", "type": "quantitative"}, "y": {"field": "y", "type": "quantitative"}}},
  {"data": {"name": "leg"}, "transform": [{"filter": "datum.p==='b'"}], "mark": {"type": "text", "font": "Lato", "fontSize": 27, "align": "left", "baseline": "middle", "color": "#000", "dx": 32}, "encoding": {"x": {"field": "xd", "type": "quantitative"}, "y": {"field": "y", "type": "quantitative"}, "text": {"field": "post"}}},
  {"data": {"name": "leg"}, "transform": [{"filter": "datum.p==='b'"}], "mark": {"type": "text", "text": "λ", "font": "Lato", "fontStyle": "italic", "fontSize": 27, "align": "left", "baseline": "middle", "color": "#000"}, "encoding": {"x": {"field": "xl", "type": "quantitative"}, "y": {"field": "y", "type": "quantitative"}}},
  {"data": {"name": "leg"}, "transform": [{"filter": "datum.p==='b'"}], "mark": {"type": "text", "text": "D", "font": "Lato", "fontStyle": "italic", "fontSize": 18, "align": "left", "baseline": "middle", "color": "#000", "dx": 16, "dy": 7}, "encoding": {"x": {"field": "xl", "type": "quantitative"}, "y": {"field": "y", "type": "quantitative"}}},
  {"data": {"name": "leg"}, "transform": [{"filter": "datum.p==='b'"}], "mark": {"type": "text", "font": "Lato", "fontSize": 27, "align": "left", "baseline": "middle", "color": "#000", "dx": 30}, "encoding": {"x": {"field": "xl", "type": "quantitative"}, "y": {"field": "y", "type": "quantitative"}, "text": {"field": "v"}}},
  {"data": {"name": "plabel"}, "transform": [{"filter": "datum.p==='b'"}], "mark": {"type": "text", "font": "Lato", "fontSize": 25, "align": "left", "baseline": "middle", "color": "#000"}, "encoding": {"x": {"field": "x", "type": "quantitative"}, "y": {"field": "y", "type": "quantitative"}, "text": {"field": "t"}}}
]
},
{
"width": 780, "height": 487,
"resolve": {"axis": {"x": "independent", "y": "independent"}},
"layer": [
  {"data": {"values": [{"x": 0, "y": 1}]}, "mark": {"type": "point", "opacity": 0},
   "encoding": {
    "x": {"field": "x", "type": "quantitative", "scale": {"domain": [0, 3], "nice": false, "zero": false},
          "axis": {"orient": "bottom", "values": [0,0.5,1,1.5,2,2.5,3], "format": "~g", "tickSize": -12, "labelPadding": 18, "title": "De", "titlePadding": 3}},
    "y": {"field": "y", "type": "quantitative", "scale": {"domain": [0.9, 3.5], "nice": false, "zero": false},
          "axis": {"orient": "left", "values": [1,1.5,2,2.5,3,3.5], "format": "~g", "tickSize": -12, "labelPadding": 22, "title": "epd", "titlePadding": 7}}}},
  {"data": {"values": [{"x": 0, "y": 1}]}, "mark": {"type": "point", "opacity": 0},
   "encoding": {
    "x": {"field": "x", "type": "quantitative", "axis": {"orient": "bottom", "values": [0.1,0.2,0.3,0.4,0.6,0.7,0.8,0.9,1.1,1.2,1.3,1.4,1.6,1.7,1.8,1.9,2.1,2.2,2.3,2.4,2.6,2.7,2.8,2.9], "labels": false, "tickSize": -6, "tickWidth": 1.5, "title": null}},
    "y": {"field": "y", "type": "quantitative", "axis": {"orient": "left", "values": [1.1,1.2,1.3,1.4,1.6,1.7,1.8,1.9,2.1,2.2,2.3,2.4,2.6,2.7,2.8,2.9,3.1,3.2,3.3,3.4], "labels": false, "tickSize": -6, "tickWidth": 1.5, "title": null}}}},
  {"data": {"values": [{"x": 0, "y": 1}]}, "mark": {"type": "point", "opacity": 0},
   "encoding": {
    "x": {"field": "x", "type": "quantitative", "axis": {"orient": "top", "values": [0,0.5,1,1.5,2,2.5,3], "labels": false, "tickSize": -12, "title": null}},
    "y": {"field": "y", "type": "quantitative", "axis": {"orient": "right", "values": [1,1.5,2,2.5,3,3.5], "labels": false, "tickSize": -12, "title": null}}}},
  {"data": {"values": [{"x": 0, "y": 1}]}, "mark": {"type": "point", "opacity": 0},
   "encoding": {
    "x": {"field": "x", "type": "quantitative", "axis": {"orient": "top", "values": [0.1,0.2,0.3,0.4,0.6,0.7,0.8,0.9,1.1,1.2,1.3,1.4,1.6,1.7,1.8,1.9,2.1,2.2,2.3,2.4,2.6,2.7,2.8,2.9], "labels": false, "tickSize": -6, "tickWidth": 1.5, "title": null}},
    "y": {"field": "y", "type": "quantitative", "axis": {"orient": "right", "values": [1.1,1.2,1.3,1.4,1.6,1.7,1.8,1.9,2.1,2.2,2.3,2.4,2.6,2.7,2.8,2.9,3.1,3.2,3.3,3.4], "labels": false, "tickSize": -6, "tickWidth": 1.5, "title": null}}}},
  {"data": {"name": "one"}, "transform": [{"filter": "datum.p==='c'"}], "mark": {"type": "rule", "color": "#c4c4c4", "strokeWidth": 1.5}, "encoding": {"x": {"field": "x", "type": "quantitative"}, "x2": {"field": "x2"}, "y": {"field": "y", "type": "quantitative"}}},
  {"data": {"name": "curves"}, "transform": [{"filter": "datum.p==='c'"}], "mark": {"type": "line", "strokeWidth": 2}, "encoding": {"x": {"field": "x", "type": "quantitative"}, "y": {"field": "y", "type": "quantitative"}, "color": {"field": "c", "type": "nominal", "scale": {"domain": ["r","b","m","g"], "range": ["#dc1e1e","#3535ff","#ff10ff","#17a65a"]}}}},
  {"data": {"name": "fit"}, "transform": [{"filter": "datum.p==='c'"}], "mark": {"type": "line", "color": "#9a9a9a", "strokeWidth": 8}, "encoding": {"x": {"field": "x", "type": "quantitative"}, "y": {"field": "y", "type": "quantitative"}}},
  {"data": {"name": "fit"}, "transform": [{"filter": "datum.p==='c'"}], "mark": {"type": "line", "color": "#383838", "strokeWidth": 5.5}, "encoding": {"x": {"field": "x", "type": "quantitative"}, "y": {"field": "y", "type": "quantitative"}}},
  {"data": {"name": "tri"}, "transform": [{"filter": "datum.p==='c'"}], "mark": {"type": "point", "shape": "triangle-up", "filled": true, "color": "#000", "opacity": 1, "size": 300}, "encoding": {"x": {"field": "x", "type": "quantitative"}, "y": {"field": "y", "type": "quantitative"}}},
  {"data": {"name": "dash"}, "transform": [{"filter": "datum.p==='c'"}], "mark": {"type": "rule", "color": "#777", "strokeWidth": 3.5, "strokeDash": [26, 9]}, "encoding": {"x": {"field": "x", "type": "quantitative"}, "y": {"field": "y", "type": "quantitative"}, "x2": {"field": "x2"}, "y2": {"field": "y2"}}},
  {"data": {"name": "regions"}, "transform": [{"filter": "datum.p==='c'"}], "mark": {"type": "rect", "fill": "white", "stroke": "#000", "strokeWidth": 2}, "encoding": {"x": {"field": "x", "type": "quantitative"}, "x2": {"field": "x2"}, "y": {"field": "y", "type": "quantitative"}, "y2": {"field": "y2"}}},
  {"data": {"name": "regions"}, "transform": [{"filter": "datum.p==='c'"}], "mark": {"type": "text", "font": "Liberation Sans", "fontWeight": "bold", "fontSize": 23, "color": "#000", "align": "center", "baseline": "middle"}, "encoding": {"x": {"field": "xc", "type": "quantitative"}, "y": {"field": "yc", "type": "quantitative"}, "text": {"field": "t"}}},
  {"data": {"name": "arrows"}, "transform": [{"filter": "datum.p==='c'"}], "mark": {"type": "rule", "strokeWidth": 2}, "encoding": {"x": {"field": "x", "type": "quantitative"}, "y": {"field": "y", "type": "quantitative"}, "x2": {"field": "x2"}, "y2": {"field": "y2"}, "color": {"field": "c", "type": "nominal", "scale": {"domain": ["r","b","m","g"], "range": ["#dc1e1e","#3535ff","#ff10ff","#17a65a"]}}}},
  {"data": {"name": "arrows"}, "transform": [{"filter": "datum.id==='c1'"}], "mark": {"type": "point", "shape": "triangle-up", "filled": true, "opacity": 1, "size": 90, "angle": 134}, "encoding": {"x": {"field": "x2", "type": "quantitative"}, "y": {"field": "y2", "type": "quantitative"}, "color": {"field": "c", "type": "nominal", "scale": {"domain": ["r","b","m","g"], "range": ["#dc1e1e","#3535ff","#ff10ff","#17a65a"]}}}},
  {"data": {"name": "arrows"}, "transform": [{"filter": "datum.id==='c06'"}], "mark": {"type": "point", "shape": "triangle-up", "filled": true, "opacity": 1, "size": 90, "angle": 182}, "encoding": {"x": {"field": "x2", "type": "quantitative"}, "y": {"field": "y2", "type": "quantitative"}, "color": {"field": "c", "type": "nominal", "scale": {"domain": ["r","b","m","g"], "range": ["#dc1e1e","#3535ff","#ff10ff","#17a65a"]}}}},
  {"data": {"name": "arrows"}, "transform": [{"filter": "datum.id==='c00'"}], "mark": {"type": "point", "shape": "triangle-up", "filled": true, "opacity": 1, "size": 90, "angle": 252}, "encoding": {"x": {"field": "x2", "type": "quantitative"}, "y": {"field": "y2", "type": "quantitative"}, "color": {"field": "c", "type": "nominal", "scale": {"domain": ["r","b","m","g"], "range": ["#dc1e1e","#3535ff","#ff10ff","#17a65a"]}}}},
  {"data": {"name": "tags"}, "transform": [{"filter": "datum.p==='c'"}], "mark": {"type": "rect", "fill": "white", "strokeWidth": 2}, "encoding": {"x": {"field": "x", "type": "quantitative"}, "x2": {"field": "x2"}, "y": {"field": "y", "type": "quantitative"}, "y2": {"field": "y2"}, "stroke": {"field": "c", "type": "nominal", "scale": {"domain": ["r","b","m","g"], "range": ["#dc1e1e","#3535ff","#ff10ff","#17a65a"]}}}},
  {"data": {"name": "tags"}, "transform": [{"filter": "datum.p==='c'"}], "mark": {"type": "text", "text": "λ", "font": "Liberation Serif", "fontSize": 26, "align": "left", "baseline": "middle", "dx": 11}, "encoding": {"x": {"field": "x", "type": "quantitative"}, "y": {"field": "yc", "type": "quantitative"}, "color": {"field": "c", "type": "nominal", "scale": {"domain": ["r","b","m","g"], "range": ["#dc1e1e","#3535ff","#ff10ff","#17a65a"]}}}},
  {"data": {"name": "tags"}, "transform": [{"filter": "datum.p==='c'"}], "mark": {"type": "text", "text": "D", "font": "Liberation Sans", "fontWeight": "bold", "fontSize": 15, "align": "left", "baseline": "middle", "dx": 25, "dy": 7}, "encoding": {"x": {"field": "x", "type": "quantitative"}, "y": {"field": "yc", "type": "quantitative"}, "color": {"field": "c", "type": "nominal", "scale": {"domain": ["r","b","m","g"], "range": ["#dc1e1e","#3535ff","#ff10ff","#17a65a"]}}}},
  {"data": {"name": "tags"}, "transform": [{"filter": "datum.p==='c'"}], "mark": {"type": "text", "font": "Liberation Sans", "fontWeight": "bold", "fontSize": 27, "align": "left", "baseline": "middle", "dx": 37}, "encoding": {"x": {"field": "x", "type": "quantitative"}, "y": {"field": "yc", "type": "quantitative"}, "text": {"field": "v"}, "color": {"field": "c", "type": "nominal", "scale": {"domain": ["r","b","m","g"], "range": ["#dc1e1e","#3535ff","#ff10ff","#17a65a"]}}}},
  {"data": {"name": "alpha"}, "transform": [{"filter": "datum.p==='c'"}], "mark": {"type": "rect", "fill": "white", "stroke": "#000", "strokeWidth": 3, "cornerRadius": 3}, "encoding": {"x": {"field": "x", "type": "quantitative"}, "x2": {"field": "x2"}, "y": {"field": "y", "type": "quantitative"}, "y2": {"field": "y2"}}},
  {"data": {"name": "alpha"}, "transform": [{"filter": "datum.p==='c'"}], "mark": {"type": "text", "text": "α", "font": "Liberation Serif", "fontSize": 44, "align": "right", "baseline": "middle", "dx": -15}, "encoding": {"x": {"field": "xc", "type": "quantitative"}, "y": {"field": "yc", "type": "quantitative"}, "color": {"field": "c", "type": "nominal", "scale": {"domain": ["r","b","m","g"], "range": ["#dc1e1e","#3535ff","#ff10ff","#17a65a"]}}}},
  {"data": {"name": "alpha"}, "transform": [{"filter": "datum.p==='c'"}], "mark": {"type": "text", "font": "Liberation Sans", "fontWeight": "bold", "fontSize": 38, "align": "left", "baseline": "middle", "dx": -13}, "encoding": {"x": {"field": "xc", "type": "quantitative"}, "y": {"field": "yc", "type": "quantitative"}, "text": {"field": "v"}, "color": {"field": "c", "type": "nominal", "scale": {"domain": ["r","b","m","g"], "range": ["#dc1e1e","#3535ff","#ff10ff","#17a65a"]}}}},
  {"data": {"name": "legbox"}, "transform": [{"filter": "datum.p==='c'"}], "mark": {"type": "rect", "fill": "white", "stroke": "#000", "strokeWidth": 2}, "encoding": {"x": {"field": "x", "type": "quantitative"}, "x2": {"field": "x2"}, "y": {"field": "y", "type": "quantitative"}, "y2": {"field": "y2"}}},
  {"data": {"name": "leg"}, "transform": [{"filter": "datum.p==='c'"}], "mark": {"type": "text", "font": "Lato", "fontSize": 27, "align": "left", "baseline": "middle", "color": "#000"}, "encoding": {"x": {"field": "xn", "type": "quantitative"}, "y": {"field": "y", "type": "quantitative"}, "text": {"field": "n"}}},
  {"data": {"name": "leg"}, "transform": [{"filter": "datum.p==='c'"}], "mark": {"type": "text", "font": "Lato", "fontSize": 27, "align": "right", "baseline": "middle", "color": "#000"}, "encoding": {"x": {"field": "xd", "type": "quantitative"}, "y": {"field": "y", "type": "quantitative"}, "text": {"field": "pre"}}},
  {"data": {"name": "leg"}, "transform": [{"filter": "datum.p==='c'"}], "mark": {"type": "text", "text": "De", "font": "Lato", "fontStyle": "italic", "fontSize": 27, "align": "left", "baseline": "middle", "color": "#000"}, "encoding": {"x": {"field": "xd", "type": "quantitative"}, "y": {"field": "y", "type": "quantitative"}}},
  {"data": {"name": "leg"}, "transform": [{"filter": "datum.p==='c'"}], "mark": {"type": "text", "font": "Lato", "fontSize": 27, "align": "left", "baseline": "middle", "color": "#000", "dx": 32}, "encoding": {"x": {"field": "xd", "type": "quantitative"}, "y": {"field": "y", "type": "quantitative"}, "text": {"field": "post"}}},
  {"data": {"name": "leg"}, "transform": [{"filter": "datum.p==='c'"}], "mark": {"type": "text", "text": "λ", "font": "Lato", "fontStyle": "italic", "fontSize": 27, "align": "left", "baseline": "middle", "color": "#000"}, "encoding": {"x": {"field": "xl", "type": "quantitative"}, "y": {"field": "y", "type": "quantitative"}}},
  {"data": {"name": "leg"}, "transform": [{"filter": "datum.p==='c'"}], "mark": {"type": "text", "text": "D", "font": "Lato", "fontStyle": "italic", "fontSize": 18, "align": "left", "baseline": "middle", "color": "#000", "dx": 16, "dy": 7}, "encoding": {"x": {"field": "xl", "type": "quantitative"}, "y": {"field": "y", "type": "quantitative"}}},
  {"data": {"name": "leg"}, "transform": [{"filter": "datum.p==='c'"}], "mark": {"type": "text", "font": "Lato", "fontSize": 27, "align": "left", "baseline": "middle", "color": "#000", "dx": 30}, "encoding": {"x": {"field": "xl", "type": "quantitative"}, "y": {"field": "y", "type": "quantitative"}, "text": {"field": "v"}}},
  {"data": {"name": "plabel"}, "transform": [{"filter": "datum.p==='c'"}], "mark": {"type": "text", "font": "Lato", "fontSize": 25, "align": "left", "baseline": "middle", "color": "#000"}, "encoding": {"x": {"field": "x", "type": "quantitative"}, "y": {"field": "y", "type": "quantitative"}, "text": {"field": "t"}}}
]
}
]
}
